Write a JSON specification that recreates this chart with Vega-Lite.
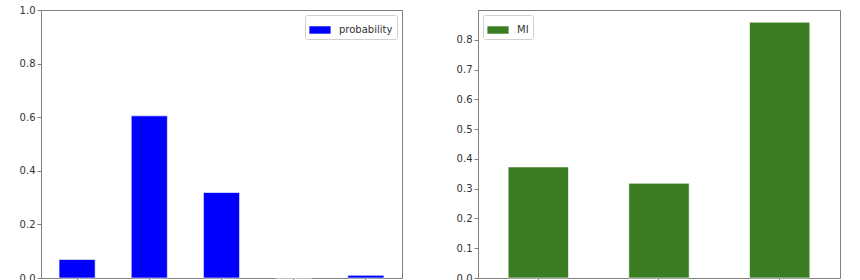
{
  "$schema": "https://vega.github.io/schema/vega-lite/v6.json",
  "padding": {"left": 0, "top": 4, "right": 0, "bottom": 0},
  "autosize": {"type": "pad"},
  "background": "white",
  "spacing": 34,
  "datasets": {
    "left": [
      {"cat": "0", "probability": 0.069},
      {"cat": "1", "probability": 0.605},
      {"cat": "2", "probability": 0.319},
      {"cat": "3", "probability": 0.0},
      {"cat": "4", "probability": 0.01}
    ],
    "right": [
      {"cat": "0", "MI": 0.373},
      {"cat": "1", "MI": 0.318},
      {"cat": "2", "MI": 0.859}
    ]
  },
  "config": {
    "font": "DejaVu Sans",
    "view": {"stroke": "#808080", "strokeWidth": 1},
    "axis": {
      "labelFont": "DejaVu Sans",
      "labelFontSize": 10,
      "labelColor": "#333333",
      "tickColor": "#808080",
      "domainColor": "#808080",
      "tickSize": 4,
      "grid": false,
      "title": null
    },
    "legend": {
      "labelFont": "DejaVu Sans",
      "labelFontSize": 10,
      "labelColor": "#333333",
      "strokeColor": "#d0d0d0",
      "fillColor": "white",
      "cornerRadius": 2,
      "padding": 4,
      "offset": 5,
      "symbolType": "M-1,-0.35L1,-0.35L1,0.35L-1,0.35Z",
      "symbolSize": 450,
      "symbolStrokeWidth": 0,
      "labelOffset": 8,
      "title": null
    }
  },
  "resolve": {
    "scale": {"x": "independent", "y": "independent", "color": "independent"},
    "legend": {"color": "independent"}
  },
  "hconcat": [
    {
      "width": 361,
      "height": 268,
      "data": {"name": "left"},
      "mark": {"type": "bar", "stroke": "white", "strokeOpacity": 0.6, "strokeWidth": 1},
      "encoding": {
        "x": {
          "field": "cat", "type": "nominal",
          "scale": {"paddingInner": 0.5, "paddingOuter": 0.25},
          "axis": {"labels": false, "domain": true, "labelAngle": 0}
        },
        "y": {
          "field": "probability", "type": "quantitative",
          "scale": {"domain": [0, 1], "nice": false},
          "axis": {"values": [0, 0.2, 0.4, 0.6, 0.8, 1.0], "format": ".1f", "minExtent": 40, "maxExtent": 40}
        },
        "color": {
          "datum": "probability",
          "scale": {"domain": ["probability"], "range": ["#0000ff"]},
          "legend": {"orient": "top-right"}
        }
      }
    },
    {
      "width": 362,
      "height": 268,
      "data": {"name": "right"},
      "mark": {"type": "bar", "stroke": "white", "strokeOpacity": 0.6, "strokeWidth": 1},
      "encoding": {
        "x": {
          "field": "cat", "type": "nominal",
          "scale": {"paddingInner": 0.5, "paddingOuter": 0.25},
          "axis": {"labels": false, "domain": true, "labelAngle": 0}
        },
        "y": {
          "field": "MI", "type": "quantitative",
          "scale": {"domain": [0, 0.9], "nice": false},
          "axis": {"values": [0, 0.1, 0.2, 0.3, 0.4, 0.5, 0.6, 0.7, 0.8], "format": ".1f", "minExtent": 40, "maxExtent": 40}
        },
        "color": {
          "datum": "MI",
          "scale": {"domain": ["MI"], "range": ["#3a7d22"]},
          "legend": {"orient": "top-left"}
        }
      }
    }
  ]
}
